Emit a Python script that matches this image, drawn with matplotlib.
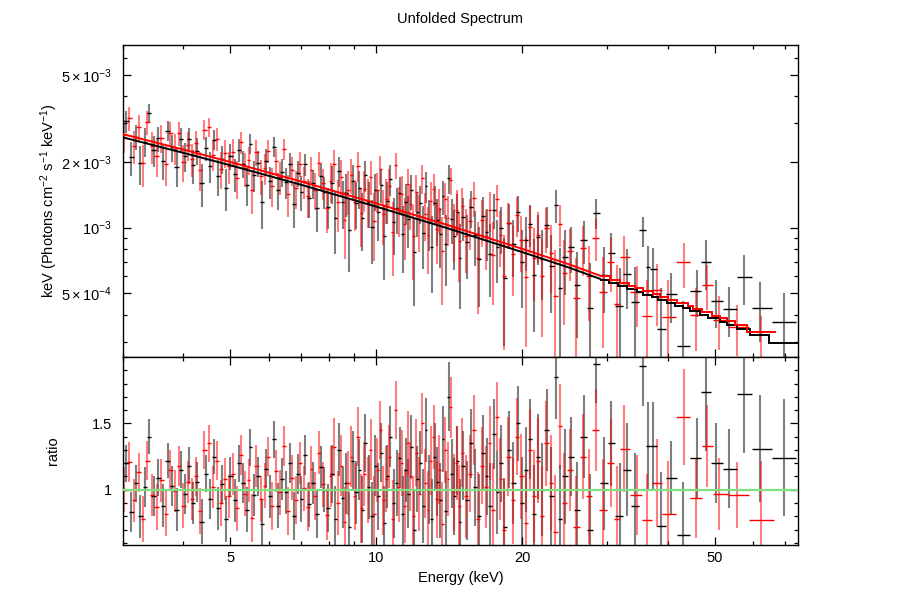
import numpy as np
import matplotlib
matplotlib.use("Agg")
import matplotlib.pyplot as plt
from matplotlib.ticker import FixedLocator, NullFormatter

plt.rcParams['font.family'] = ['Liberation Sans', 'DejaVu Sans']
plt.rcParams['font.size'] = 10.5
plt.rcParams['mathtext.fontset'] = 'custom'
plt.rcParams['mathtext.rm'] = 'Liberation Sans'
plt.rcParams['mathtext.it'] = 'Liberation Sans:italic'
plt.rcParams['mathtext.bf'] = 'Liberation Sans:bold'

# ---- podaci: crni spektar (energija keV, fluks x1e-3, omjer, greska omjera)
black_e = [3.05, 3.12, 3.19, 3.26, 3.33, 3.40, 3.47, 3.55, 3.63, 3.71,
           3.79, 3.87, 3.95, 4.03, 4.11, 4.19, 4.27, 4.36, 4.45, 4.54,
           4.63, 4.72, 4.81, 4.90, 5.00,
           5.10, 5.20, 5.30, 5.40, 5.50, 5.60, 5.71, 5.82, 5.93, 6.04,
           6.15, 6.27, 6.39, 6.51, 6.63, 6.75, 6.88, 7.01, 7.14, 7.27,
           7.40, 7.54, 7.68, 7.82, 7.96,
           8.10, 8.24, 8.38, 8.52, 8.66, 8.80, 8.94, 9.08, 9.22, 9.36,
           9.50, 9.65, 9.80, 9.95, 10.10, 10.25, 10.40, 10.55, 10.70, 10.86,
           11.02, 11.18, 11.34, 11.50, 11.66, 11.82, 11.99, 12.16, 12.33, 12.50,
           12.67, 12.84, 13.02, 13.20, 13.38, 13.56, 13.74, 13.93, 14.12, 14.31,
           14.50, 14.70, 14.90,
           15.1, 15.4, 15.7, 16.0, 16.3, 16.6, 16.9, 17.2, 17.5, 17.8,
           18.1, 18.4, 18.8, 19.2, 19.6, 20.0, 20.4, 20.8, 21.2, 21.6,
           22.0, 22.5, 23.0, 23.5, 24.0, 24.5,
           25.2, 26.0, 26.8, 27.6, 28.5, 29.5, 30.6, 31.8, 33.0, 34.2,
           35.6, 36.4, 37.3, 38.8, 40.7, 43.1, 46.0, 47.9, 50.4, 53.5,
           57.6, 61.9, 69.4]
black_flux = [3.07, 2.10, 2.61, 1.97, 2.48, 3.36, 2.26, 2.56, 2.03, 2.78,
              2.33, 1.90, 2.54, 2.12, 2.55, 1.93, 2.25, 1.60, 2.32, 1.91,
              2.53, 1.72, 2.06, 1.52, 2.12,
              1.76, 2.27, 1.96, 1.57, 2.42, 1.74, 1.97, 1.31, 2.03, 1.63,
              2.35, 1.49, 1.80, 1.62, 1.96, 1.29, 1.78, 1.46, 1.95, 1.37,
              1.60, 1.23, 1.73, 1.46, 1.25,
              1.60, 1.11, 1.82, 1.31, 1.44, 0.98, 1.64, 1.30, 1.52, 1.11,
              1.74, 1.31, 1.01, 1.48, 1.18, 1.57, 0.92, 1.33, 1.67, 1.06,
              1.23, 1.44, 0.94, 1.31, 1.10, 1.48, 0.77, 1.18, 1.30, 0.95,
              1.55, 1.06, 0.82, 1.30, 1.09, 0.94, 1.39, 0.84, 1.68, 1.10,
              0.92, 1.18, 0.73,
              1.12, 0.86, 1.24, 0.93, 0.72, 1.13, 0.96, 0.76, 1.21, 0.82,
              1.00, 0.59, 1.05, 0.84, 1.18, 0.70, 0.88, 1.04, 0.61, 0.91,
              0.72, 1.03, 0.665, 1.27, 0.527, 0.733,
              0.816, 0.544, 0.878, 0.43, 1.17, 0.609, 0.763, 0.438, 0.613, 0.456,
              0.971, 0.658, 0.645, 0.343, 0.495, 0.287, 0.513, 0.696, 0.462, 0.425,
              0.595, 0.43, 0.372]
black_ratio = [1.20, 0.83, 1.05, 0.80, 1.02, 1.40, 0.95, 1.09, 0.88, 1.22,
               1.03, 0.85, 1.15, 0.97, 1.18, 0.90, 1.06, 0.76, 1.12, 0.93,
               1.25, 0.86, 1.04, 0.78, 1.10,
               0.92, 1.20, 1.05, 0.85, 1.32, 0.96, 1.10, 0.74, 1.16, 0.95,
               1.38, 0.88, 1.08, 0.98, 1.20, 0.80, 1.12, 0.93, 1.26, 0.89,
               1.05, 0.82, 1.17, 1.00, 0.86,
               1.12, 0.78, 1.30, 0.94, 1.05, 0.72, 1.22, 0.98, 1.15, 0.85,
               1.35, 1.02, 0.80, 1.18, 0.95, 1.28, 0.75, 1.10, 1.40, 0.90,
               1.05, 1.24, 0.82, 1.15, 0.97, 1.32, 0.70, 1.08, 1.20, 0.88,
               1.45, 1.00, 0.78, 1.25, 1.06, 0.92, 1.38, 0.84, 1.70, 1.12,
               0.95, 1.22, 0.76,
               1.18, 0.92, 1.35, 1.02, 0.80, 1.28, 1.10, 0.88, 1.42, 0.98,
               1.20, 0.72, 1.30, 1.05, 1.50, 0.90, 1.15, 1.38, 0.82, 1.25,
               1.00, 1.45, 0.95, 1.85, 0.78, 1.10,
               1.25, 0.85, 1.40, 0.70, 1.95, 1.05, 1.35, 0.80, 1.15, 0.88,
               1.93, 1.33, 1.33, 0.73, 1.09, 0.66, 1.24, 1.74, 1.20, 1.16,
               1.72, 1.31, 1.24]
black_err = [0.14, 0.15, 0.14, 0.16, 0.15, 0.13, 0.15, 0.14, 0.16, 0.13,
             0.15, 0.16, 0.14, 0.15, 0.14, 0.16, 0.15, 0.17, 0.14, 0.15,
             0.13, 0.16, 0.15, 0.17, 0.15,
             0.16, 0.14, 0.15, 0.17, 0.14, 0.16, 0.15, 0.18, 0.15, 0.16,
             0.14, 0.17, 0.16, 0.16, 0.15, 0.18, 0.15, 0.17, 0.15, 0.17,
             0.16, 0.18, 0.16, 0.17, 0.18,
             0.22, 0.25, 0.20, 0.23, 0.23, 0.26, 0.22, 0.24, 0.23, 0.25,
             0.22, 0.24, 0.26, 0.23, 0.25, 0.22, 0.28, 0.24, 0.23, 0.26,
             0.25, 0.23, 0.28, 0.24, 0.26, 0.24, 0.30, 0.25, 0.24, 0.28,
             0.24, 0.26, 0.30, 0.25, 0.26, 0.28, 0.25, 0.30, 0.26, 0.26,
             0.29, 0.26, 0.32,
             0.26, 0.30, 0.26, 0.29, 0.32, 0.28, 0.29, 0.32, 0.26, 0.31,
             0.29, 0.37, 0.29, 0.31, 0.28, 0.35, 0.32, 0.30, 0.37, 0.32,
             0.35, 0.31, 0.37, 0.32, 0.41, 0.36,
             0.30, 0.36, 0.31, 0.42, 0.30, 0.35, 0.32, 0.40, 0.35, 0.40,
             0.30, 0.33, 0.33, 0.40, 0.28, 0.40, 0.30, 0.45, 0.30, 0.30,
             0.44, 0.40, 0.44]

# ---- podaci: crveni spektar
red_e = [3.02, 3.09, 3.16, 3.23, 3.30, 3.37, 3.44, 3.52, 3.60, 3.68,
         3.76, 3.84, 3.92, 4.00, 4.08, 4.16, 4.24, 4.33, 4.42, 4.51,
         4.60, 4.69, 4.78, 4.87, 4.96,
         5.05, 5.15, 5.25, 5.35, 5.45, 5.55, 5.66, 5.77, 5.88, 5.99,
         6.10, 6.22, 6.34, 6.46, 6.58, 6.70, 6.83, 6.96, 7.09, 7.22,
         7.35, 7.49, 7.63, 7.77, 7.91,
         8.05, 8.19, 8.33, 8.47, 8.61, 8.75, 8.89, 9.03, 9.17, 9.31,
         9.45, 9.60, 9.75, 9.90, 10.05, 10.20, 10.35, 10.50, 10.65, 10.81,
         10.97, 11.13, 11.29, 11.45, 11.61, 11.77, 11.94, 12.11, 12.28, 12.45,
         12.62, 12.79, 12.97, 13.15, 13.33, 13.51, 13.69, 13.88, 14.07, 14.26,
         14.45, 14.65, 14.85,
         15.05, 15.35, 15.65, 15.95, 16.25, 16.55, 16.85, 17.15, 17.45, 17.75,
         18.05, 18.35, 18.75, 19.15, 19.55, 19.95, 20.35, 20.75, 21.15, 21.55,
         21.95, 22.45, 22.95, 23.45, 23.95, 24.45,
         25.1, 25.9, 26.7, 27.5, 28.4, 29.4, 30.5, 31.4, 32.5, 34.5,
         36.2, 38.0, 40.0, 43.2, 45.8, 48.2, 51.0, 55.5, 62.4]
red_flux = [2.66, 3.17, 2.37, 2.88, 1.97, 3.04, 2.36, 2.12, 2.58, 1.95,
            2.70, 2.30, 2.71, 2.00, 2.39, 2.07, 2.43, 1.84, 2.81, 2.89,
            2.15, 2.55, 1.86, 2.20, 1.91,
            2.23, 1.69, 2.46, 1.87, 2.04, 1.49, 2.21, 1.72, 1.87, 2.24,
            1.56, 2.01, 1.71, 2.29, 1.43, 1.83, 1.52, 1.96, 1.63, 1.39,
            1.84, 1.49, 1.98, 1.60, 1.23,
            1.64, 1.95, 1.31, 1.71, 1.09, 1.48, 1.75, 1.31, 1.92, 1.17,
            1.50, 1.33, 1.71, 1.07, 1.48, 1.85, 1.16, 1.35, 1.55, 0.96,
            1.94, 1.22, 1.43, 1.04, 1.58, 1.28, 0.92, 1.46, 1.09, 1.68,
            1.16, 0.93, 1.33, 1.51, 0.99, 1.22, 0.78, 1.35, 1.11, 1.65,
            0.99, 1.20, 0.87,
            1.26, 0.92, 1.07, 1.37, 0.73, 1.08, 0.92, 1.21, 0.75, 1.35,
            0.93, 0.60, 1.05, 0.76, 1.14, 0.88, 0.595, 1.01, 0.73, 0.93,
            0.60, 1.00, 0.763, 0.486, 1.04, 0.62,
            0.78, 0.478, 0.81, 0.60, 0.90, 0.51, 0.70, 0.447, 0.731, 0.51,
            0.395, 0.519, 0.389, 0.693, 0.40, 0.545, 0.38, 0.351, 0.25]
red_ratio = [1.00, 1.21, 0.92, 1.13, 0.78, 1.22, 0.96, 0.87, 1.07, 0.82,
             1.15, 0.99, 1.18, 0.88, 1.06, 0.93, 1.10, 0.84, 1.30, 1.35,
             1.02, 1.22, 0.90, 1.08, 0.95,
             1.12, 0.86, 1.26, 0.97, 1.07, 0.79, 1.18, 0.93, 1.03, 1.25,
             0.88, 1.14, 0.98, 1.33, 0.84, 1.09, 0.92, 1.20, 1.01, 0.87,
             1.16, 0.95, 1.28, 1.04, 0.81,
             1.10, 1.32, 0.90, 1.18, 0.76, 1.05, 1.25, 0.95, 1.40, 0.86,
             1.12, 1.00, 1.30, 0.82, 1.15, 1.45, 0.92, 1.08, 1.25, 0.78,
             1.60, 1.02, 1.20, 0.88, 1.35, 1.10, 0.80, 1.28, 0.97, 1.50,
             1.05, 0.85, 1.22, 1.40, 0.93, 1.15, 0.74, 1.30, 1.08, 1.62,
             0.98, 1.20, 0.88,
             1.28, 0.95, 1.12, 1.45, 0.78, 1.18, 1.02, 1.35, 0.85, 1.55,
             1.08, 0.70, 1.25, 0.92, 1.40, 1.10, 0.75, 1.30, 0.95, 1.22,
             0.80, 1.35, 1.05, 0.68, 1.48, 0.90,
             1.15, 0.72, 1.25, 0.95, 1.45, 0.85, 1.20, 0.78, 1.31, 0.96,
             0.77, 1.05, 0.82, 1.55, 0.94, 1.33, 0.97, 0.96, 0.77]
red_err = [0.17, 0.15, 0.16, 0.15, 0.17, 0.15, 0.16, 0.17, 0.16, 0.17,
           0.15, 0.16, 0.15, 0.17, 0.16, 0.16, 0.15, 0.17, 0.14, 0.14,
           0.16, 0.15, 0.17, 0.16, 0.16,
           0.16, 0.17, 0.15, 0.17, 0.16, 0.18, 0.16, 0.17, 0.17, 0.15,
           0.18, 0.16, 0.17, 0.15, 0.18, 0.17, 0.18, 0.16, 0.17, 0.18,
           0.17, 0.18, 0.16, 0.17, 0.19,
           0.23, 0.22, 0.24, 0.23, 0.26, 0.24, 0.23, 0.25, 0.22, 0.26,
           0.24, 0.25, 0.23, 0.28, 0.24, 0.22, 0.26, 0.25, 0.24, 0.29,
           0.22, 0.26, 0.25, 0.28, 0.24, 0.26, 0.30, 0.25, 0.28, 0.23,
           0.26, 0.29, 0.26, 0.24, 0.29, 0.26, 0.32, 0.25, 0.28, 0.23,
           0.29, 0.28, 0.31,
           0.26, 0.31, 0.29, 0.26, 0.35, 0.29, 0.31, 0.28, 0.35, 0.26,
           0.31, 0.38, 0.30, 0.33, 0.29, 0.32, 0.39, 0.31, 0.35, 0.32,
           0.38, 0.32, 0.36, 0.43, 0.32, 0.38,
           0.31, 0.38, 0.32, 0.36, 0.31, 0.38, 0.33, 0.40, 0.33, 0.30,
           0.35, 0.33, 0.40, 0.36, 0.30, 0.31, 0.27, 0.25, 0.45]

# ---- model (x1e-3): glatki dio + stepenice na visokim energijama
black_model_e = [3.0, 4.0, 5.0, 7.0, 10.0, 14.0, 20.0, 25.0, 29.0]
black_model_v = [2.59, 2.20, 1.93, 1.572, 1.249, 0.996, 0.774, 0.657, 0.583]
black_step_edges = [29.0, 30.2, 31.5, 32.9, 34.5, 35.6, 37.1, 38.2, 39.8, 41.4,
                    43.1, 44.5, 46.6, 48.5, 51.3, 52.9, 55.5, 59.1, 64.8, 74.3]
black_step_vals = [0.578, 0.561, 0.543, 0.524, 0.508, 0.494, 0.481, 0.468, 0.453,
                   0.439, 0.427, 0.414, 0.400, 0.385, 0.372, 0.360, 0.344, 0.323,
                   0.296]

red_model_e = [3.0, 4.0, 5.0, 7.0, 10.0, 14.0, 20.0, 25.0, 29.0]
red_model_v = [2.68, 2.278, 1.998, 1.627, 1.293, 1.031, 0.801, 0.680, 0.603]
red_step_edges = [29.0, 30.4, 31.9, 33.2, 34.2, 35.6, 37.3, 38.5, 40.1, 41.7,
                  44.1, 45.1, 47.0, 49.3, 51.3, 52.9, 55.0, 58.2, 66.9]
red_step_vals = [0.598, 0.577, 0.558, 0.543, 0.529, 0.511, 0.496, 0.482, 0.467,
                 0.450, 0.436, 0.425, 0.410, 0.396, 0.385, 0.374, 0.360, 0.332]


def bin_edges(e):
    # rubovi binova na pola puta (log) izmedju susjednih tocaka
    e = np.asarray(e)
    mid = np.sqrt(e[:-1] * e[1:])
    lo = np.concatenate([[e[0] ** 2 / mid[0]], mid])
    hi = np.concatenate([mid, [e[-1] ** 2 / mid[-1]]])
    return lo, hi


def draw_points(ax, e, y, yerr, color):
    e = np.asarray(e)
    lo, hi = bin_edges(e)
    ax.vlines(e, np.maximum(y - yerr, 1e-9), y + yerr,
              color=color, lw=1.5, alpha=0.5, zorder=2)
    ax.hlines(y, lo, hi, color=color, lw=1.0, zorder=3)


fig = plt.figure(figsize=(9.03, 6.06), dpi=100)
ax1 = fig.add_axes([0.1362, 0.4109, 0.7475, 0.5149])
ax2 = fig.add_axes([0.1362, 0.1007, 0.7475, 0.3102], sharex=ax1)

# Gornji graf - unfolded spektar
for e, f, r, er, c in [(black_e, black_flux, black_ratio, black_err, 'black'),
                       (red_e, red_flux, red_ratio, red_err, 'red')]:
    f = np.asarray(f) * 1e-3
    ferr = f * np.asarray(er) / np.asarray(r)
    draw_points(ax1, e, f, ferr, c)

ax1.plot(black_model_e, np.asarray(black_model_v) * 1e-3, color='black', lw=1.4, zorder=4)
ax1.stairs(np.asarray(black_step_vals) * 1e-3, black_step_edges, baseline=None,
           color='black', lw=1.4, zorder=4)
ax1.plot(red_model_e, np.asarray(red_model_v) * 1e-3, color='red', lw=1.4, zorder=5)
ax1.stairs(np.asarray(red_step_vals) * 1e-3, red_step_edges, baseline=None,
           color='red', lw=1.4, zorder=5)

ax1.set_xscale('log')
ax1.set_yscale('log')
ax1.set_xlim(3.0, 74.3)
ax1.set_ylim(2.56e-4, 6.86e-3)
ax1.yaxis.set_major_locator(FixedLocator([5e-4, 1e-3, 2e-3, 5e-3]))
ax1.set_yticklabels([r'$5\times10^{-4}$', r'$10^{-3}$', r'$2\times10^{-3}$', r'$5\times10^{-3}$'])
ax1.yaxis.set_minor_locator(FixedLocator([3e-4, 4e-4, 6e-4, 7e-4, 8e-4, 9e-4, 3e-3, 4e-3, 6e-3]))
ax1.yaxis.set_minor_formatter(NullFormatter())
ax1.set_ylabel(r'keV (Photons cm$^{-2}$ s$^{-1}$ keV$^{-1}$)')
ax1.yaxis.set_label_coords(-0.094, 0.5)
ax1.set_title('Unfolded Spectrum', pad=16, fontsize=10.5)
plt.setp(ax1.get_xticklabels(), visible=False)

# Donji graf - omjer
for e, r, er, c in [(black_e, black_ratio, black_err, 'black'),
                    (red_e, red_ratio, red_err, 'red')]:
    draw_points(ax2, e, np.asarray(r), np.asarray(er), c)
ax2.axhline(1.0, color='#7ee07e', lw=1.6, zorder=6)

ax2.set_ylim(0.584, 2.0)
ax2.yaxis.set_major_locator(FixedLocator([1.0, 1.5]))
ax2.set_yticklabels(['1', '1.5'])
ax2.yaxis.set_minor_locator(FixedLocator([0.6, 0.7, 0.8, 0.9, 1.1, 1.2, 1.3, 1.4,
                                          1.6, 1.7, 1.8, 1.9, 2.0]))
ax2.set_ylabel('ratio')
ax2.yaxis.set_label_coords(-0.094, 0.5)
ax2.set_xlabel('Energy (keV)')

ax2.xaxis.set_major_locator(FixedLocator([5, 10, 20, 50]))
ax2.set_xticklabels(['5', '10', '20', '50'])
ax2.xaxis.set_minor_locator(FixedLocator([3, 4, 6, 7, 8, 9, 30, 40, 60, 70]))
ax2.xaxis.set_minor_formatter(NullFormatter())

for ax in (ax1, ax2):
    ax.tick_params(which='both', direction='in', top=True, right=True, width=0.9)
    ax.tick_params(which='major', length=6)
    ax.tick_params(which='minor', length=3)
    ax.tick_params(axis='x', which='major', pad=4.5)
    ax.tick_params(axis='y', which='major', pad=8)
    for s in ax.spines.values():
        s.set_linewidth(1.0)

plt.savefig("out.png", dpi=100)
